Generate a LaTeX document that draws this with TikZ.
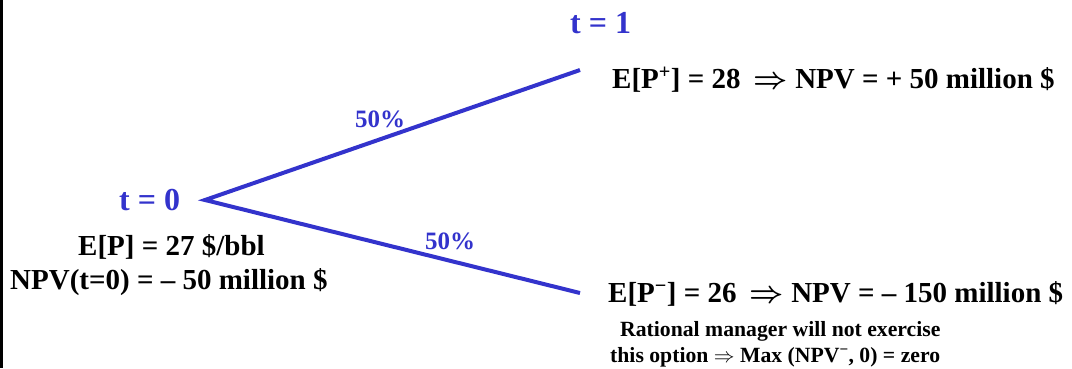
\documentclass[tikz,border=0pt]{standalone}
\usepackage{fontspec}
\setmainfont{Liberation Serif}
\definecolor{tblue}{RGB}{51,51,204}
\newcommand{\myarr}{\scalebox{1.2}{\boldmath$\Rightarrow$}}
\begin{document}
\begin{tikzpicture}[x=1pt,y=-1pt,
  lbl/.style={inner sep=0pt,anchor=base west,font=\fontsize{29}{32}\selectfont\bfseries},
  small/.style={inner sep=0pt,anchor=base west,font=\fontsize{21.7}{24}\selectfont\bfseries},
  tlbl/.style={inner sep=0pt,anchor=base west,text=tblue,font=\fontsize{32}{36}\selectfont\bfseries},
  pct/.style={inner sep=0pt,anchor=base west,text=tblue,font=\fontsize{25}{28}\selectfont\bfseries},
  branch/.style={draw=tblue,line width=4pt}]
\useasboundingbox (0,0) rectangle (1072,368);
\coordinate (topl) at (1.5,0);
\coordinate (botl) at (1.5,368);
\draw[line width=3pt] (topl) -- (botl);
\coordinate (root) at (205,200);
\coordinate (up) at (580,70);
\coordinate (down) at (580,293);
\draw[branch] (up) -- (root) -- (down);
\node[tlbl] (t1) at (570,33) {t = 1};
\node[tlbl] (t0) at (119,210) {t = 0};
\node[pct] (p1) at (355,127) {50\%};
\node[pct] (p2) at (425,249) {50\%};
\node[lbl] (up1) at (612,88) {E[P\textsuperscript{+}] = 28\hspace{13pt}\myarr{} NPV = + 50 million \$};
\node[lbl] (ep) at (78,255) {E[P] = 27 \$/bbl};
\node[lbl] (npv0) at (10,289) {NPV(t=0) = – 50 million \$};
\node[lbl] (dn1) at (608,302) {E[P\textsuperscript{−}] = 26\hspace{13pt}\myarr{} NPV = – 150 million \$};
\node[small] (r1) at (620,336) {Rational manager will not exercise};
\node[small] (r2) at (610,362) {this option $\Rightarrow$ Max (NPV\textsuperscript{−}, 0) = zero};
\end{tikzpicture}
\end{document}
